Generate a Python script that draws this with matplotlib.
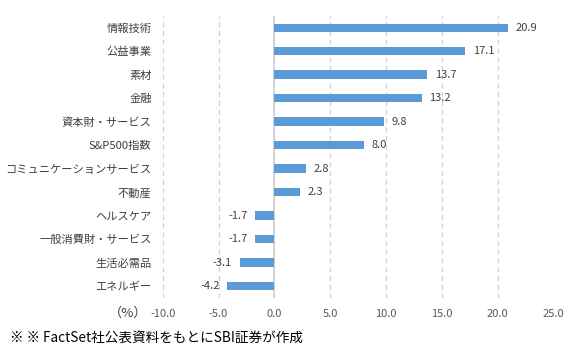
import matplotlib
matplotlib.use("Agg")
import matplotlib.pyplot as plt

plt.rcParams['font.family'] = ['Noto Sans CJK JP', 'DejaVu Sans']

sectors = ['情報技術', '公益事業', '素材', '金融', '資本財・サービス', 'S&P500指数',
           'コミュニケーションサービス', '不動産', 'ヘルスケア', '一般消費財・サービス',
           '生活必需品', 'エネルギー']
values = [20.9, 17.1, 13.7, 13.2, 9.8, 8.0, 2.8, 2.3, -1.7, -1.7, -3.1, -4.2]
xticks = [-10.0, -5.0, 0.0, 5.0, 10.0, 15.0, 20.0, 25.0]

fig = plt.figure(figsize=(5.78, 3.53), dpi=100)
ax = fig.add_axes([0.2815, 0.156, 0.6758, 0.7987])

ypos = list(range(len(sectors)))
ax.barh(ypos, values, height=0.36, color='#5B9BD5', zorder=3)
ax.set_ylim(len(sectors) - 0.5, -0.5)
ax.set_xlim(-10, 25)

for y, v in zip(ypos, values):
    if v >= 0:
        ax.text(v + 0.7, y, f'{v:.1f}', va='center', ha='left', fontsize=8, color='#404040')
    else:
        ax.text(v - 0.7, y, f'{v:.1f}', va='center', ha='right', fontsize=8, color='#404040')

ax.set_yticks(ypos)
ax.set_yticklabels(sectors, fontsize=8.1, color='#404040')
ax.set_xticks(xticks)
ax.set_xticklabels([f'{t:.1f}' for t in xticks], fontsize=8, color='#595959')
ax.tick_params(length=0, pad=8)

ax.grid(axis='x', linestyle=(0, (4, 3)), color='#D0D0D0', linewidth=0.9, zorder=0)
ax.axvline(0, color='#D0D0D0', linewidth=1.2, zorder=2)
for s in ax.spines.values():
    s.set_visible(False)

fig.text(0.256, 0.113, '（%）', fontsize=9.5, color='#404040', ha='right', va='center')
fig.text(0.018, 0.04, '※ ※ FactSet社公表資料をもとにSBI証券が作成', fontsize=9.8,
         color='black', ha='left', va='center')

fig.savefig('out.png', dpi=100)
